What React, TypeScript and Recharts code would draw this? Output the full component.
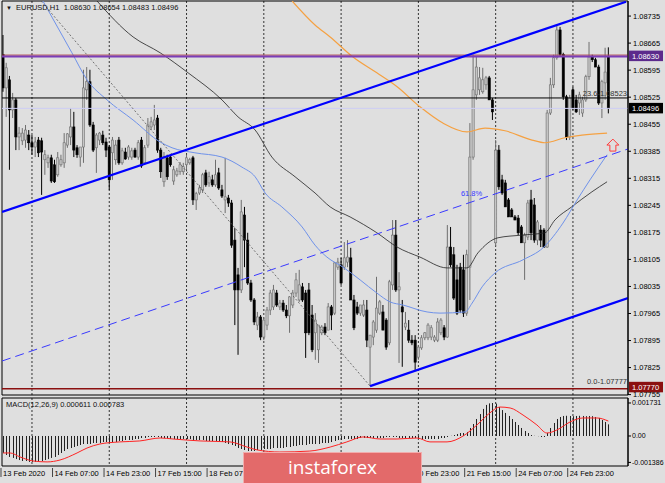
import React from "react";
import {
  ComposedChart,
  Bar,
  Line,
  XAxis,
  YAxis,
  CartesianGrid,
  ReferenceLine,
  ReferenceArea,
  ReferenceDot,
} from "recharts";

const FONT = '"Liberation Sans", Arial, sans-serif';

// EURUSD H1, one value per bar (bar 0 = 13 Feb 15:00)
const openP = [
  1.08635, 1.08549, 1.0857, 1.08492, 1.08518, 1.08422, 1.08412, 1.08414, 1.08427, 1.08407,
  1.08396, 1.08414, 1.08412, 1.08363, 1.08355, 1.08368, 1.0835, 1.08324, 1.0835, 1.08355,
  1.08401, 1.08422, 1.08448, 1.08394, 1.0837, 1.08396, 1.08544, 1.08565, 1.08453, 1.08394,
  1.08414, 1.08427, 1.08409, 1.08396, 1.08381, 1.08363, 1.08414, 1.08355, 1.08383, 1.0837,
  1.0837, 1.08388, 1.0837, 1.08414, 1.08355, 1.08401, 1.08448, 1.08453, 1.08471, 1.08388,
  1.08306, 1.08368, 1.0837, 1.08308, 1.08324, 1.08332, 1.08332, 1.0835, 1.08355, 1.08368,
  1.08259, 1.08277, 1.08285, 1.08329, 1.08303, 1.08311, 1.08298, 1.08329, 1.08285, 1.08259,
  1.08264, 1.08251, 1.08155, 1.08065, 1.08026, 1.0822, 1.08155, 1.08044, 1.08, 1.07935,
  1.07956, 1.07904, 1.07935, 1.07974, 1.07982, 1.08018, 1.07982, 1.07992, 1.07974, 1.07959,
  1.07987, 1.08018, 1.08, 1.08034, 1.08018, 1.08026, 1.07961, 1.07915, 1.07871, 1.07915,
  1.0793, 1.07922, 1.07982, 1.07966, 1.08085, 1.08091, 1.08085, 1.08098, 1.08109, 1.08,
  1.07982, 1.07966, 1.07961, 1.07974, 1.07878, 1.07904, 1.07922, 1.07966, 1.07969, 1.07948,
  1.07889, 1.08039, 1.08168, 1.08026, 1.07982, 1.0793, 1.07922, 1.07896, 1.07896, 1.07852,
  1.07876, 1.07902, 1.07902, 1.07904, 1.07896, 1.07896, 1.07915, 1.07928, 1.07904, 1.08137,
  1.08117, 1.08052, 1.08085, 1.08078, 1.07966, 1.08085, 1.0837, 1.08531, 1.08544, 1.08539,
  1.08557, 1.08575, 1.08518, 1.08148, 1.08388, 1.08311, 1.08303, 1.08259, 1.08233, 1.08215,
  1.08212, 1.08189, 1.08148, 1.08163, 1.08259, 1.08246, 1.08155, 1.08181, 1.08181, 1.08137,
  1.08484, 1.08557, 1.08627, 1.08699, 1.08635, 1.08526, 1.08422, 1.08544, 1.08518, 1.0851,
  1.08484, 1.08518, 1.08578, 1.08629, 1.08622, 1.08603, 1.0851, 1.08562, 1.0863,
];
const highP = [
  1.08686, 1.08614, 1.0858, 1.08536, 1.08523, 1.08448, 1.08445, 1.08453, 1.0844, 1.08427,
  1.08422, 1.08422, 1.0842, 1.08388, 1.08376, 1.08376, 1.08363, 1.08383, 1.08376, 1.08432,
  1.08432, 1.08497, 1.08487, 1.08401, 1.08396, 1.08596, 1.08603, 1.08596, 1.08461, 1.08432,
  1.08435, 1.08438, 1.0842, 1.08401, 1.08422, 1.08414, 1.08422, 1.08394, 1.08394, 1.08401,
  1.08394, 1.08394, 1.08414, 1.08422, 1.08401, 1.08471, 1.08474, 1.08505, 1.08479, 1.08394,
  1.08383, 1.08376, 1.08376, 1.08347, 1.08342, 1.08357, 1.08355, 1.08376, 1.08368, 1.08373,
  1.0828, 1.08298, 1.08329, 1.08337, 1.08332, 1.08324, 1.08363, 1.08342, 1.08298, 1.08368,
  1.08272, 1.08259, 1.08186, 1.08083, 1.08259, 1.08241, 1.08174, 1.08052, 1.08005, 1.07969,
  1.07961, 1.07953, 1.07982, 1.08026, 1.08039, 1.08026, 1.08, 1.08, 1.07987, 1.0801,
  1.08026, 1.0807, 1.08078, 1.08044, 1.08026, 1.08044, 1.07987, 1.07966, 1.07935, 1.07935,
  1.0794, 1.07992, 1.07987, 1.08098, 1.08109, 1.08109, 1.0815, 1.08155, 1.08135, 1.08013,
  1.07995, 1.07987, 1.08, 1.08, 1.07909, 1.07948, 1.0806, 1.08, 1.07987, 1.07953,
  1.08052, 1.08207, 1.08207, 1.08072, 1.08, 1.07969, 1.07948, 1.07909, 1.07909, 1.07883,
  1.07909, 1.07917, 1.0794, 1.07935, 1.07909, 1.07953, 1.07953, 1.07935, 1.08194, 1.08189,
  1.08137, 1.08091, 1.08096, 1.08117, 1.0813, 1.08458, 1.08635, 1.08629, 1.08603, 1.08601,
  1.0858, 1.0858, 1.08523, 1.08414, 1.08401, 1.08324, 1.08311, 1.08264, 1.08238, 1.0822,
  1.0822, 1.08194, 1.08174, 1.08259, 1.08285, 1.08264, 1.08207, 1.08194, 1.08186, 1.08492,
  1.08575, 1.08635, 1.0871, 1.08707, 1.0864, 1.08531, 1.08531, 1.08552, 1.08531, 1.08539,
  1.08526, 1.08583, 1.08668, 1.08635, 1.08627, 1.08609, 1.0857, 1.08653, 1.08654,
];
const lowP = [
  1.08539, 1.08474, 1.08337, 1.08471, 1.08388, 1.08388, 1.08401, 1.08394, 1.08388, 1.08376,
  1.0837, 1.0837, 1.08272, 1.08324, 1.08342, 1.08303, 1.08303, 1.08319, 1.08345, 1.08342,
  1.08394, 1.08401, 1.0837, 1.08368, 1.08345, 1.08355, 1.08518, 1.08448, 1.08383, 1.08329,
  1.08401, 1.08401, 1.0837, 1.08285, 1.08311, 1.0835, 1.0835, 1.0835, 1.08363, 1.08363,
  1.08363, 1.08368, 1.08363, 1.08342, 1.0835, 1.08394, 1.0844, 1.0844, 1.08381, 1.08316,
  1.08293, 1.08311, 1.08345, 1.08298, 1.08319, 1.08324, 1.08324, 1.08337, 1.0835, 1.08246,
  1.08233, 1.08272, 1.08277, 1.08293, 1.08293, 1.08293, 1.08293, 1.08285, 1.08264, 1.08225,
  1.08241, 1.08135, 1.07935, 1.07858, 1.08018, 1.08085, 1.08039, 1.07995, 1.07935, 1.07922,
  1.07896, 1.07896, 1.07922, 1.07961, 1.07974, 1.07982, 1.07974, 1.07969, 1.07953, 1.07915,
  1.07979, 1.08008, 1.07995, 1.07995, 1.0785, 1.07909, 1.07865, 1.07845, 1.07837, 1.07909,
  1.07909, 1.07922, 1.07922, 1.07961, 1.08078, 1.08039, 1.08078, 1.08085, 1.08, 1.07922,
  1.07961, 1.07959, 1.07956, 1.07878, 1.07777, 1.07883, 1.07915, 1.07961, 1.07922, 1.07871,
  1.07883, 1.08026, 1.08021, 1.07837, 1.07827, 1.07922, 1.07889, 1.07883, 1.07819, 1.07845,
  1.07871, 1.07896, 1.07896, 1.07896, 1.07891, 1.07891, 1.07909, 1.07896, 1.07902, 1.08085,
  1.08, 1.07961, 1.07966, 1.07956, 1.07959, 1.08, 1.08363, 1.08518, 1.08531, 1.08534,
  1.08544, 1.08518, 1.08466, 1.0814, 1.08285, 1.08272, 1.08241, 1.08215, 1.08215, 1.08207,
  1.08168, 1.08148, 1.08052, 1.08155, 1.08155, 1.08148, 1.08142, 1.08137, 1.08135, 1.08135,
  1.08479, 1.08549, 1.08622, 1.08629, 1.08518, 1.08414, 1.08414, 1.08492, 1.08484, 1.08479,
  1.08474, 1.08513, 1.0857, 1.08616, 1.08603, 1.08505, 1.08471, 1.08518, 1.08483,
];
const closeP = [
  1.08549, 1.08601, 1.08492, 1.08518, 1.08422, 1.08432, 1.08432, 1.0844, 1.08407, 1.08396,
  1.08409, 1.08381, 1.08383, 1.08376, 1.08368, 1.08308, 1.08306, 1.08368, 1.08363, 1.08407,
  1.0843, 1.08448, 1.08388, 1.08376, 1.08396, 1.08549, 1.08565, 1.08453, 1.08388, 1.08427,
  1.08432, 1.08407, 1.08388, 1.08311, 1.08414, 1.08401, 1.08355, 1.08386, 1.08365, 1.08396,
  1.08386, 1.0837, 1.08407, 1.08347, 1.08394, 1.08453, 1.08461, 1.08466, 1.08388, 1.08332,
  1.0837, 1.08319, 1.0835, 1.08337, 1.08334, 1.0835, 1.08345, 1.08368, 1.08363, 1.08259,
  1.08275, 1.0829, 1.08324, 1.08298, 1.08319, 1.08298, 1.08324, 1.0829, 1.08269, 1.08267,
  1.08251, 1.08142, 1.08026, 1.08026, 1.08228, 1.08155, 1.08044, 1.08, 1.07943, 1.07956,
  1.07904, 1.07948, 1.07974, 1.08018, 1.08026, 1.07987, 1.07992, 1.07974, 1.07959, 1.08008,
  1.08018, 1.08052, 1.08039, 1.08, 1.07915, 1.07915, 1.07871, 1.07948, 1.07935, 1.0793,
  1.07915, 1.07982, 1.07961, 1.08096, 1.08098, 1.08044, 1.08109, 1.08111, 1.08, 1.07928,
  1.07966, 1.07987, 1.07987, 1.07896, 1.07909, 1.07943, 1.07979, 1.07995, 1.07922, 1.07878,
  1.08047, 1.08168, 1.08026, 1.08034, 1.07969, 1.0794, 1.07896, 1.07889, 1.07839, 1.07878,
  1.07902, 1.07915, 1.07935, 1.07928, 1.07904, 1.07943, 1.07948, 1.07904, 1.08137, 1.08091,
  1.08005, 1.07966, 1.07974, 1.07966, 1.08117, 1.0837, 1.08544, 1.08603, 1.08575, 1.0857,
  1.08575, 1.08518, 1.08487, 1.08388, 1.08293, 1.08277, 1.08241, 1.08215, 1.08215, 1.08207,
  1.08174, 1.08148, 1.08168, 1.08251, 1.08174, 1.08155, 1.08202, 1.08155, 1.08137, 1.08484,
  1.08557, 1.08627, 1.08699, 1.08635, 1.08526, 1.08422, 1.08523, 1.08497, 1.08487, 1.08531,
  1.08518, 1.08578, 1.08629, 1.08622, 1.08603, 1.0851, 1.08565, 1.0859, 1.08496,
];

// MACD(12,26,9) histogram, one per bar
const macdHist = [
  -0.000892, -0.000997, -0.0011, -0.00115, -0.00121, -0.00126, -0.00131, -0.00131, -0.00136, -0.00136,
  -0.00136, -0.00136, -0.00131, -0.00126, -0.00121, -0.00115, -0.0011, -0.000997, -0.000892, -0.000787,
  -0.000682, -0.00063, -0.000577, -0.000525, -0.000472, -0.00042, -0.00042, -0.00042, -0.000367, -0.000367,
  -0.000367, -0.000315, -0.000315, -0.000367, -0.000315, -0.000315, -0.000262, -0.000262, -0.00021, -0.00021,
  -0.00021, -0.000157, -0.000157, -0.000105, -0.000105, -0.000052, -0.000052, -0.000052, -0.000052, -0.000105,
  -0.000105, -0.000105, -0.000157, -0.000157, -0.000157, -0.000157, -0.000157, -0.000157, -0.000157, -0.00021,
  -0.00021, -0.00021, -0.00021, -0.000262, -0.000262, -0.000262, -0.000262, -0.000315, -0.000315, -0.000367,
  -0.00042, -0.000472, -0.000525, -0.00063, -0.000682, -0.000735, -0.000787, -0.000787, -0.000787, -0.000735,
  -0.000735, -0.000682, -0.000682, -0.000682, -0.00063, -0.00063, -0.00063, -0.00063, -0.000577, -0.000577,
  -0.000525, -0.000525, -0.000472, -0.000472, -0.000472, -0.00042, -0.00042, -0.00042, -0.00042, -0.000367,
  -0.000367, -0.000367, -0.000315, -0.000262, -0.00021, -0.00021, -0.000157, -0.000157, -0.000157, -0.000157,
  -0.000157, -0.000105, -0.000105, -0.000105, -0.000105, -0.000105, -0.000105, -0.000105, -0.000105, -0.000052,
  -0.000052, -0.000052, -0.000052, -0.000105, -0.000105, -0.000105, -0.000105, -0.000105, -0.000105, -0.000157,
  -0.000157, -0.000157, -0.000157, -0.000157, -0.000157, -0.000157, -0.000105, -0.000105, -0.000052, 0.00001,
  0.000052, 0.000105, 0.000157, 0.000157, 0.00021, 0.00042, 0.00063, 0.000892, 0.00115, 0.00142,
  0.00163, 0.00171, 0.00173, 0.0017, 0.00152, 0.00136, 0.00121, 0.00105, 0.000892, 0.000735,
  0.000577, 0.00042, 0.000262, 0.000157, 0.000052, 0.00001, -0.00001, -0.000052, -0.000052, 0.000157,
  0.00042, 0.000682, 0.000892, 0.000997, 0.00105, 0.00106, 0.00105, 0.00104, 0.00105, 0.00106,
  0.00105, 0.00104, 0.00105, 0.00104, 0.000997, 0.000945, 0.00084, 0.000735, 0.000611,
];

// MACD signal line, read at these bar positions
const signalBars = [0, 2.2, 5.3, 9.3, 13.7, 17.7, 23, 26.1, 30.1, 36.3, 42.5, 48.8, 52.8, 61.2, 70.5, 75.8, 78.9, 86, 95.3, 101.6, 106.8, 111.8, 117.1, 122.4, 128.6, 132.6, 137.9, 142.9, 147.2, 151.2, 154.3, 157.5, 161.5, 165.8, 168.9, 172, 176.1, 180.1, 184.5, 188];
const signalVals = [-0.00089, -0.00089, -0.0011, -0.00131, -0.00136, -0.00126, -0.00089, -0.00063, -0.00042, -0.00031, -0.00026, -0.000105, -0.000157, -0.00026, -0.00031, -0.00058, -0.00073, -0.00084, -0.00079, -0.00058, -0.00031, -0.00005, -0.000157, -0.000157, -0.000105, -0.00031, -0.00031, 0, 0.00058, 0.00121, 0.00152, 0.00147, 0.0011, 0.00058, 0.000157, 0.000315, 0.000735, 0.000945, 0.000945, 0.000783];

// moving averages, read at these bar positions
const blueMaBars = [12.4, 21.4, 26.1, 32.3, 40.4, 48.8, 52.5, 59.6, 68, 74.2, 78.3, 81.4, 86.6, 92.9, 96.9, 100.6, 105.6, 110.9, 116.1, 120.2, 124.2, 131.7, 135.7, 143.5, 145.7, 148.8, 152.8, 161.5, 167.7, 173.9, 178.3, 182.3, 187.6];
const blueMaVals = [1.08774, 1.0864, 1.0857, 1.08518, 1.08466, 1.08409, 1.08394, 1.08381, 1.0837, 1.08344, 1.08319, 1.08277, 1.08241, 1.08189, 1.08142, 1.08111, 1.08085, 1.08052, 1.08018, 1.07995, 1.07987, 1.07969, 1.07966, 1.07969, 1.07992, 1.08034, 1.0807, 1.08104, 1.08135, 1.08199, 1.08259, 1.08311, 1.08376];
const blackMaBars = [29.2, 40.4, 48.8, 57.5, 68, 73, 78.3, 83.5, 90.7, 96.9, 101.6, 107.8, 116.1, 122.4, 129.5, 137.9, 144.1, 147.5, 153.7, 161.2, 168.3, 171.4, 176.6, 182.9, 187.6];
const blackMaVals = [1.08774, 1.08681, 1.0864, 1.08588, 1.08518, 1.08474, 1.0844, 1.0837, 1.08319, 1.08277, 1.08241, 1.08215, 1.08174, 1.08137, 1.08111, 1.08083, 1.08083, 1.08122, 1.08161, 1.08168, 1.08174, 1.08207, 1.08241, 1.0828, 1.08306];
const orangeMaBars = [89.8, 96.9, 101.6, 108.7, 116.1, 122.4, 129.5, 136.6, 144.1, 149.7, 155.9, 164.3, 168.3, 174.5, 179.8, 187.6];
const orangeMaVals = [1.08774, 1.08712, 1.08681, 1.08629, 1.08588, 1.08552, 1.085, 1.08458, 1.08435, 1.08445, 1.08438, 1.08414, 1.08407, 1.0842, 1.08427, 1.08432];

// drawn objects: [bar, price] end points
const channelUpper = [[-0.3, 1.08228], [193.5, 1.08772]];
const channelLower = [[114, 1.07777], [194.1, 1.08005]];
const channelMid = [[-0.3, 1.07842], [194.1, 1.08391]];
const fibDiagonal = [[11.8, 1.08774], [114, 1.07777]];

const priceTicks = [1.07755, 1.07825, 1.07895, 1.07965, 1.08035, 1.08105, 1.08175, 1.08245, 1.08315, 1.08385, 1.08455, 1.08525, 1.08595, 1.08665, 1.08735];
const macdTicks = [0.001731, 0, -0.001386];
// time labels left visible by the banner
const timeTicks = [0, 16, 32, 48, 64, 128, 144, 160, 176];
const timeLabels = ["13 Feb 2020", "14 Feb 07:00", "14 Feb 23:00", "17 Feb 15:00", "18 Feb 07:00", "20 Feb 23:00", "21 Feb 15:00", "24 Feb 07:00", "24 Feb 23:00"];
const dayBars = [9, 33, 57, 81, 105, 129, 153, 177];

const X_DOMAIN: [number, number] = [-0.31, 194.1];
const PRICE_DOMAIN: [number, number] = [1.07754, 1.08774];
const MACD_DOMAIN: [number, number] = [-0.001574, 0.001993];

const candles = openP.map((o, i) => ({
  i,
  o,
  h: highP[i],
  l: lowP[i],
  c: closeP[i],
  range: [lowP[i], highP[i]],
}));
const macdData = macdHist.map((v, i) => ({ i, v }));
const signalData = signalBars.map((i, k) => ({ i, v: signalVals[k] }));
const blueMa = blueMaBars.map((i, k) => ({ i, v: blueMaVals[k] }));
const blackMa = blackMaBars.map((i, k) => ({ i, v: blackMaVals[k] }));
const orangeMa = orangeMaBars.map((i, k) => ({ i, v: orangeMaVals[k] }));

const seg = (pts: number[][]) => [
  { x: pts[0][0], y: pts[0][1] },
  { x: pts[1][0], y: pts[1][1] },
];

const Candle = (props: any) => {
  const { x, y, width, height } = props;
  const d = props.payload || props;
  if (d == null || d.h == null) return null;
  const top = Math.min(y, y + height);
  const bot = Math.max(y, y + height);
  const span = d.h - d.l || 1e-9;
  const py = (v: number) => top + ((d.h - v) / span) * (bot - top);
  const cx = x + width / 2;
  const bull = d.c >= d.o;
  const yo = py(d.o);
  const yc = py(d.c);
  const bt = Math.min(yo, yc);
  const bh = Math.max(Math.abs(yo - yc), 0.8);
  const edge = bull ? "#6e6e6e" : "#000";
  return (
    <g>
      <line x1={cx} x2={cx} y1={top} y2={bot} stroke={edge} strokeWidth={1} />
      <rect
        x={cx - 1.1}
        y={bt}
        width={2.2}
        height={bh}
        fill={bull ? "#c6c6c6" : "#000"}
        stroke={edge}
        strokeWidth={0.6}
      />
    </g>
  );
};

// MACD histogram bar: a crisp 1px column
const HistBar = (props: any) => {
  const { x, y, width, height } = props;
  const top = Math.min(y, y + height);
  const h = Math.abs(height);
  if (!h) return null;
  const cx = Math.round(x + width / 2);
  return <rect x={cx} y={top} width={1} height={h} fill="#222" />;
};

const priceBox = (text: string, bg: string, up = 6) => (p: any) => {
  const vb = p.viewBox || {};
  const right = (vb.x || 0) + (vb.width || 0);
  const y = vb.y || 0;
  return (
    <g>
      <rect x={right + 1} y={y - up} width={34} height={10.5} fill={bg} />
      <text x={right + 4} y={y - up + 8} fontSize={7.5} fill="#fff" fontFamily={FONT}>
        {text}
      </text>
    </g>
  );
};

const fibText = (text: string) => (p: any) => {
  const vb = p.viewBox || {};
  const right = (vb.x || 0) + (vb.width || 0);
  const y = vb.y || 0;
  return (
    <text x={right - 1} y={y - 2} textAnchor="end" fontSize={7.5} fill="#333" fontFamily={FONT}>
      {text}
    </text>
  );
};

const UpArrow = (p: any) => {
  const { cx, cy } = p;
  const d = `M${cx},${cy - 6} L${cx + 6},${cy} L${cx + 3},${cy} L${cx + 3},${cy + 6} L${cx - 3},${cy + 6} L${cx - 3},${cy} L${cx - 6},${cy} Z`;
  return <path d={d} fill="none" stroke="#ff3b3b" strokeWidth={1} />;
};

const FibPct = (p: any) => (
  <text x={p.cx} y={p.cy} fontSize={7.5} fill="#3838ff" fontFamily={FONT}>
    61.8%
  </text>
);

const TimeTick = (props: any) => {
  const { x, y, payload } = props;
  const k = timeTicks.indexOf(payload.value);
  return (
    <g>
      <line x1={x - 2} x2={x - 2} y1={y + 2} y2={y + 11} stroke="#444" strokeWidth={1} />
      <text x={x} y={y + 10} fontSize={7.5} fill="#000" fontFamily={FONT}>
        {timeLabels[k]}
      </text>
    </g>
  );
};

const tickStyle = { fontSize: 7.5, fill: "#000", fontFamily: FONT };
const macdTickStyle = { fontSize: 7, fill: "#000", fontFamily: FONT };

export default function App() {
  return (
    <div
      style={{
        position: "absolute",
        left: 0,
        top: 0,
        width: 665,
        height: 483,
        background: "#dfdfdf",
        overflow: "hidden",
        fontFamily: FONT,
      }}
    >
      <div style={{ position: "absolute", left: 0, top: 397 }}>
        <ComposedChart width={665} height={86} data={macdData} margin={{ top: 1, right: 0, left: 2, bottom: 0 }}>
          <CartesianGrid horizontal={false} verticalValues={dayBars} stroke="#333" strokeDasharray="2 2" />
          <XAxis
            dataKey="i"
            type="number"
            domain={X_DOMAIN}
            allowDataOverflow
            ticks={timeTicks}
            interval={0}
            height={17}
            tick={<TimeTick />}
            tickLine={false}
            axisLine={false}
            tickSize={0}
            tickMargin={0}
          />
          <YAxis
            orientation="right"
            width={37}
            domain={MACD_DOMAIN}
            allowDataOverflow
            ticks={macdTicks}
            interval={0}
            tickFormatter={(v: number) => (v === 0 ? "0.00" : v.toFixed(6))}
            tick={macdTickStyle}
            tickSize={3}
            tickMargin={1}
            stroke="#000"
          />
          <Bar dataKey="v" barSize={2} shape={HistBar} isAnimationActive={false} />
          <Line data={signalData} dataKey="v" type="monotone" stroke="#ff2424" strokeWidth={1} dot={false} isAnimationActive={false} />
          <ReferenceArea x1={X_DOMAIN[0]} x2={X_DOMAIN[1]} y1={MACD_DOMAIN[0]} y2={MACD_DOMAIN[1]} fill="none" stroke="#000" strokeWidth={1} ifOverflow="visible" />
        </ComposedChart>
      </div>

      <div style={{ position: "absolute", left: 0, top: 0 }}>
        <ComposedChart width={665} height={398} data={candles} margin={{ top: 1, right: 0, left: 2, bottom: 3 }}>
          <CartesianGrid horizontal={false} verticalValues={dayBars} stroke="#333" strokeDasharray="2 2" />
          <XAxis dataKey="i" type="number" domain={X_DOMAIN} allowDataOverflow hide />
          <YAxis
            orientation="right"
            width={37}
            domain={PRICE_DOMAIN}
            allowDataOverflow
            ticks={priceTicks}
            interval={0}
            tickFormatter={(v: number) => v.toFixed(5)}
            tick={tickStyle}
            tickSize={3}
            tickMargin={2}
            stroke="#000"
          />
          <Bar dataKey="range" barSize={3} shape={Candle} isAnimationActive={false} />
          <Line data={orangeMa} dataKey="v" type="monotone" stroke="#f5a142" strokeWidth={1.2} dot={false} isAnimationActive={false} />
          <Line data={blackMa} dataKey="v" type="monotone" stroke="#222" strokeWidth={0.8} dot={false} isAnimationActive={false} />
          <Line data={blueMa} dataKey="v" type="monotone" stroke="#6f92ea" strokeWidth={1} dot={false} isAnimationActive={false} />
          <ReferenceLine y={1.08634} stroke="#b04848" strokeWidth={1} />
          <ReferenceLine y={1.0863} stroke="#7a3db8" strokeWidth={2} label={priceBox("1.08630", "#5c2a8c", 6)} />
          <ReferenceLine y={1.08523} stroke="#000" strokeWidth={1} label={fibText("23.6-1.08523")} />
          <ReferenceLine y={1.08496} stroke="#cfcff5" strokeWidth={1} label={priceBox("1.08496", "#000", 5.5)} />
          <ReferenceLine y={1.07777} stroke="none" label={fibText("0.0-1.07777")} />
          <ReferenceLine y={1.0777} stroke="#8b1010" strokeWidth={1.5} label={priceBox("1.07770", "#8b1010", 7)} />
          <ReferenceLine segment={seg(fibDiagonal)} ifOverflow="hidden" stroke="#555" strokeWidth={0.8} strokeDasharray="2 2" />
          <ReferenceLine segment={seg(channelMid)} ifOverflow="hidden" stroke="#3a3aff" strokeWidth={1} strokeDasharray="9 5" />
          <ReferenceLine segment={seg(channelUpper)} ifOverflow="hidden" stroke="#0000ff" strokeWidth={2.2} />
          <ReferenceLine segment={seg(channelLower)} ifOverflow="hidden" stroke="#0000ff" strokeWidth={2.2} />
          <ReferenceDot x={142.2} y={1.08269} r={1} shape={FibPct} />
          <ReferenceDot x={189.4} y={1.08401} r={1} shape={UpArrow} />
          <ReferenceArea x1={X_DOMAIN[0]} x2={X_DOMAIN[1]} y1={PRICE_DOMAIN[0]} y2={PRICE_DOMAIN[1]} fill="none" stroke="#000" strokeWidth={1} ifOverflow="visible" />
        </ComposedChart>
      </div>

      <div style={{ position: "absolute", left: 6, top: 3, fontSize: 7.5, lineHeight: "10px", color: "#111", whiteSpace: "pre" }}>
        <span style={{ fontSize: 6 }}>▼</span>
        {"  EURUSD,H1  1.08630 1.08654 1.08483 1.08496"}
      </div>
      <div style={{ position: "absolute", left: 6, top: 400, fontSize: 7.5, lineHeight: "9px", color: "#111", whiteSpace: "pre" }}>
        MACD(12,26,9) 0.000611 0.000783
      </div>

      <div
        style={{
          position: "absolute",
          left: 243,
          top: 452,
          width: 179,
          height: 33,
          background: "#e36a6a",
          boxShadow: "inset 0 0 0 1px #f2adad",
          color: "#fff",
          fontFamily: '"Open Sans", sans-serif',
          fontSize: 19,
          lineHeight: "31px",
          textAlign: "center",
        }}
      >
        instaforex
      </div>
    </div>
  );
}
